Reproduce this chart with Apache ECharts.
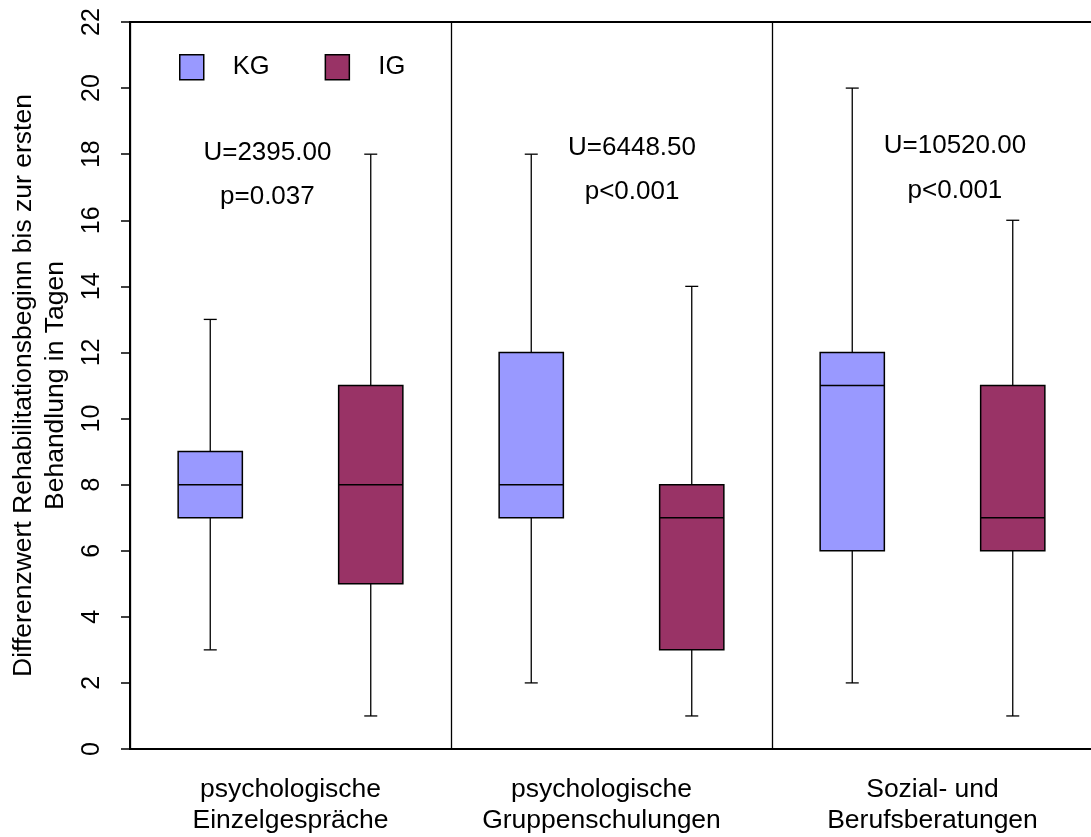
<!DOCTYPE html>
<html>
<head>
<meta charset="utf-8">
<script src="https://cdn.jsdelivr.net/npm/echarts@6/dist/echarts.min.js"></script>
<style>html,body{margin:0;padding:0;background:#fff;}#c{width:1091px;height:837px;}</style>
</head>
<body>
<div id="c"></div>
<script>
// ---- data ----
const groups = ['psychologische\nEinzelgespräche', 'psychologische\nGruppenschulungen', 'Sozial- und\nBerufsberatungen'];
// [min, Q1, median, Q3, max]
const kgStats = [[3, 7, 8, 9, 13], [2, 7, 8, 12, 18], [2, 6, 11, 12, 20]];
const igStats = [[1, 5, 8, 11, 18], [1, 3, 7, 8, 14], [1, 6, 7, 11, 16]];
const uLabels = ['U=2395.00', 'U=6448.50', 'U=10520.00'];
const pLabels = ['p=0.037', 'p<0.001', 'p<0.001'];
const uLabelY = [18.05, 18.2, 18.25];
const pLabelY = [16.7, 16.85, 16.88];
const labelX = [0.428, 1.564, 2.57];
const yMin = 0, yMax = 22, yStep = 2;
const yName = 'Differenzwert Rehabilitationsbeginn bis zur ersten\nBehandlung in Tagen';

const FONT = '"Liberation Sans", Arial, sans-serif';
const KG_COLOR = '#9999FF';
const IG_COLOR = '#993366';

function boxData(stats, offset) {
  return stats.map((s, i) => [i + 0.5 + offset].concat(s));
}

function makeRender(color) {
  return function (params, api) {
    const x = api.value(0);
    const vMin = api.value(1), q1 = api.value(2), med = api.value(3), q3 = api.value(4), vMax = api.value(5);
    const pMin = api.coord([x, vMin]);
    const pQ1 = api.coord([x, q1]);
    const pMed = api.coord([x, med]);
    const pQ3 = api.coord([x, q3]);
    const pMax = api.coord([x, vMax]);
    const bw = api.size([1, 0])[0] * 0.2;
    const cw = 13;
    const cx = pMed[0];
    const ls = { stroke: '#000', lineWidth: 1.3 };
    return {
      type: 'group',
      children: [
        { type: 'line', shape: { x1: cx, y1: pQ3[1], x2: cx, y2: pMax[1] }, style: ls },
        { type: 'line', shape: { x1: cx - cw / 2, y1: pMax[1], x2: cx + cw / 2, y2: pMax[1] }, style: ls },
        { type: 'line', shape: { x1: cx, y1: pQ1[1], x2: cx, y2: pMin[1] }, style: ls },
        { type: 'line', shape: { x1: cx - cw / 2, y1: pMin[1], x2: cx + cw / 2, y2: pMin[1] }, style: ls },
        { type: 'rect', shape: { x: cx - bw / 2, y: pQ3[1], width: bw, height: pQ1[1] - pQ3[1] },
          style: { fill: color, stroke: '#000', lineWidth: 1.5 } },
        { type: 'line', shape: { x1: cx - bw / 2, y1: pMed[1], x2: cx + bw / 2, y2: pMed[1] },
          style: { stroke: '#000', lineWidth: 1.5 } }
      ]
    };
  };
}

const annotData = labelX.map((x, i) => [x, uLabelY[i], pLabelY[i]]);

const chart = echarts.init(document.getElementById('c'), null, { renderer: 'canvas' });
chart.setOption({
  animation: false,
  backgroundColor: '#fff',
  textStyle: { fontFamily: FONT },
  grid: { left: 130, top: 22, right: -2, bottom: 88, outerBoundsMode: 'none', containLabel: false,
    show: true, borderColor: '#000', borderWidth: 2, backgroundColor: 'transparent' },
  legend: {
    left: 174, top: 49, padding: 5,
    itemWidth: 24, itemHeight: 25,
    itemGap: 55,
    icon: 'rect',
    textStyle: { fontSize: 25.5, color: '#000', fontFamily: FONT, padding: [2, 0, 0, 24] },
    data: [
      { name: 'KG', itemStyle: { color: KG_COLOR, borderColor: '#000', borderWidth: 1.5 } },
      { name: 'IG', itemStyle: { color: IG_COLOR, borderColor: '#000', borderWidth: 1.5 } }
    ]
  },
  xAxis: [
    {
      type: 'value', min: 0, max: 3, interval: 1,
      axisLine: { show: false }, axisTick: { show: false }, axisLabel: { show: false },
      splitLine: { show: true, lineStyle: { color: '#000', width: 1.3 } }
    },
    {
      type: 'category', position: 'bottom', boundaryGap: true,
      data: groups.map((g, i) => i === 1 ? { value: g, textStyle: { padding: [0, 20, 0, 0] } } : g),
      axisLine: { show: true, lineStyle: { color: '#000', width: 2 } },
      axisTick: { show: false },
      axisLabel: { margin: 25, fontSize: 26.5, color: '#000', lineHeight: 31, fontFamily: FONT, interval: 0 },
      splitLine: { show: false }
    }
  ],
  yAxis: {
    type: 'value', min: yMin, max: yMax, interval: yStep,
    name: yName, nameLocation: 'middle', nameGap: 58, nameRotate: 90,
    nameTextStyle: { fontSize: 26.5, color: '#000', lineHeight: 32, fontFamily: FONT },
    axisLine: { show: true, lineStyle: { color: '#000', width: 2 } },
    axisTick: { show: true, length: 9, lineStyle: { color: '#000', width: 1.5 } },
    axisLabel: { rotate: 90, margin: 25, fontSize: 25, color: '#000', fontFamily: FONT },
    splitLine: { show: false }
  },
  series: [
    {
      name: 'KG', type: 'custom', xAxisIndex: 0,
      itemStyle: { color: KG_COLOR, borderColor: '#000', borderWidth: 1.5 },
      renderItem: makeRender(KG_COLOR),
      encode: { x: 0, y: [1, 2, 3, 4, 5] },
      data: boxData(kgStats, -0.25)
    },
    {
      name: 'IG', type: 'custom', xAxisIndex: 0,
      itemStyle: { color: IG_COLOR, borderColor: '#000', borderWidth: 1.5 },
      renderItem: makeRender(IG_COLOR),
      encode: { x: 0, y: [1, 2, 3, 4, 5] },
      data: boxData(igStats, 0.25)
    },
    {
      name: 'annot', type: 'custom', xAxisIndex: 0, silent: true,
      encode: { x: 0, y: [1, 2] },
      renderItem: function (params, api) {
        const i = params.dataIndex;
        const pu = api.coord([api.value(0), api.value(1)]);
        const pp = api.coord([api.value(0), api.value(2)]);
        const st = { fill: '#000', fontSize: 26, fontFamily: FONT, align: 'center', verticalAlign: 'middle' };
        return {
          type: 'group',
          children: [
            { type: 'text', x: pu[0], y: pu[1], style: Object.assign({ text: uLabels[i] }, st) },
            { type: 'text', x: pp[0], y: pp[1], style: Object.assign({ text: pLabels[i] }, st) }
          ]
        };
      },
      data: annotData
    }
  ]
});
</script>
</body>
</html>
